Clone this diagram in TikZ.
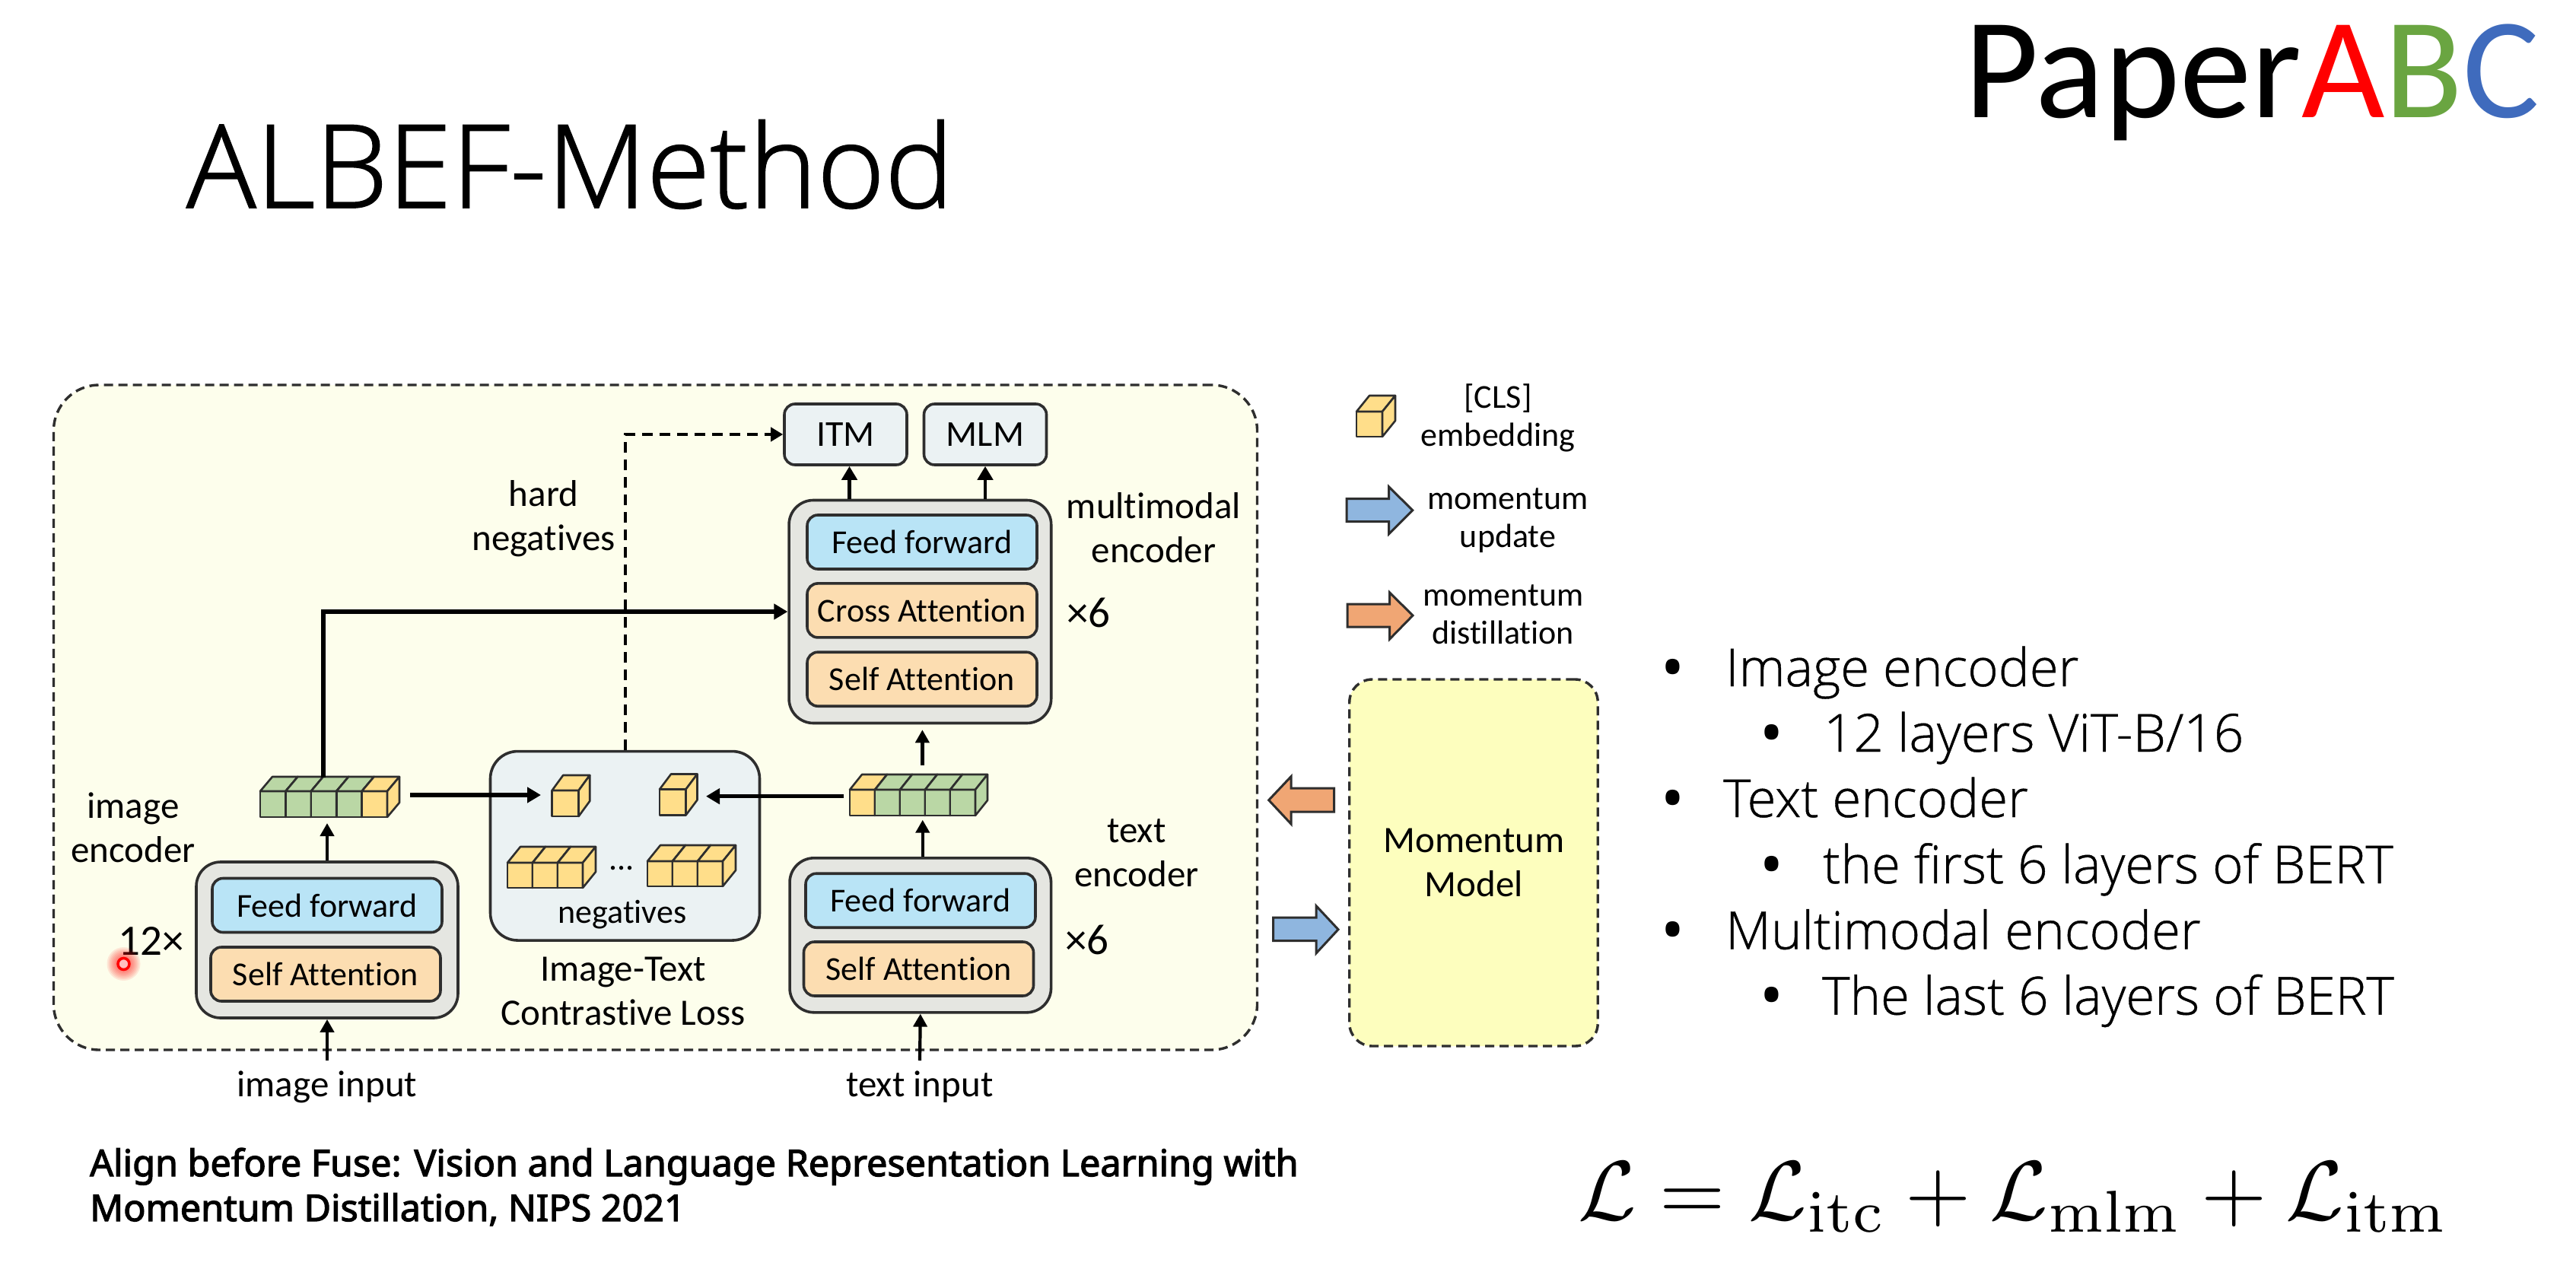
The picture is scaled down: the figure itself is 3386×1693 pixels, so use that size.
\documentclass[tikz,border=0pt]{standalone}
\usepackage[no-math]{fontspec}
\usetikzlibrary{arrows.meta}
\newfontfamily\carl[Ligatures=NoCommon]{Carlito}
\newfontfamily\opensans[FakeBold=0.6]{Open Sans Light}
\newfontfamily\titlefont[FakeBold=1.2]{Open Sans Light}
\newfontfamily\notob{Noto Sans}
\newfontfamily\notobold[FakeBold=2.5]{Noto Sans}
\definecolor{outerfill}{HTML}{FDFEEC}
\definecolor{stackfill}{HTML}{E5E6E1}
\definecolor{fffill}{HTML}{B9E4F6}
\definecolor{attfill}{HTML}{FCDDB1}
\definecolor{ctrfill}{HTML}{EBF2F3}
\definecolor{momfill}{HTML}{FDFEBE}
\definecolor{tokg}{HTML}{BAD7A5}
\definecolor{toky}{HTML}{FFDE8A}
\definecolor{inkc}{HTML}{2E2E2E}
\definecolor{bluearr}{HTML}{8FB6DF}
\definecolor{orarr}{HTML}{F0A674}
\definecolor{abcr}{HTML}{FF0000}
\definecolor{abcg}{HTML}{6AA541}
\definecolor{abcb}{HTML}{3F6BBD}
\newcommand\tokcell[7]{%
  \draw[cubeline,fill=#7] (#1,#2) rectangle ++(#3,#4);
  \draw[cubeline,fill=#7] (#1,#2) -- ++(#5,-#6) -- ++(#3,0) -- ++(-#5,#6) -- cycle;
  \draw[cubeline,fill=#7] (#1,#2) ++(#3,0) -- ++(#5,-#6) -- ++(0,#4) -- ++(-#5,#6) -- cycle;
}
\newcommand\tokrow[7]{%
  \foreach \cc [count=\ii from 0] in {#7}{%
    \pgfmathsetmacro\xx{#1+\ii*#3}
    \tokcell{\xx}{#2}{#3}{#4}{#5}{#6}{\cc}
  }%
}
\tikzset{
  x=1pt,y=-1pt,
  cubeline/.style={draw=inkc,line width=2.6pt,line join=round},
  box/.style={draw=inkc,line width=3.6pt,rounded corners=14pt,inner sep=0pt,text=black,font=\carl\fontsize{44}{50}\selectfont},
  stackbox/.style={box,fill=stackfill,rounded corners=32pt},
  ffbox/.style={box,fill=fffill,minimum width=302pt,minimum height=71pt},
  attbox/.style={box,fill=attfill,minimum width=302pt,minimum height=71pt},
  headbox/.style={box,fill=ctrfill,minimum width=161pt,minimum height=80pt,font=\carl\fontsize{48}{50}\selectfont},
  dashbox/.style={draw=inkc,line width=3.4pt,dash pattern=on 12pt off 7pt},
  lab/.style={inner sep=0pt,anchor=base,align=center,font=\carl\fontsize{49}{58}\selectfont},
  timeslab/.style={lab,font=\carl\fontsize{57}{58}\selectfont},
  smalllab/.style={lab,font=\carl\fontsize{44}{50}\selectfont},
  slab/.style={inner sep=0pt,anchor=base west,font=\opensans\fontsize{69}{80}\selectfont},
  bul/.style={inner sep=0pt,anchor=base,font=\notob\fontsize{82}{100}\selectfont},
  hidden/.style={inner sep=0pt,outer sep=0pt},
  thinarr/.style={draw=black,line width=4.2pt,-{Triangle[length=17pt,width=18pt]}},
  thickarr/.style={draw=black,line width=5.5pt,-{Triangle[length=18pt,width=20pt]}},
  dasharr/.style={draw=black,line width=4pt,dash pattern=on 14pt off 9pt,-{Triangle[length=16pt,width=18pt]}},
  blockarr/.style={draw=inkc,line width=3pt,line join=miter},
}
\begin{document}
\begin{tikzpicture}
\useasboundingbox (0,0) rectangle (3386,1693);
\fill[white] (0,0) rectangle (3386,1693);
% title
\node[inner sep=0pt,anchor=base west,font=\titlefont\fontsize{152}{170}\selectfont] (title) at (245,273) {ALBEF-Method};
\node[inner sep=0pt,anchor=base west,font=\carl\fontsize{189}{200}\selectfont] (logo) at (2582,155) {Paper\textcolor{abcr}{A}\textcolor{abcg}{B}\textcolor{abcb}{C}};
% panels
\node[dashbox,fill=outerfill,rounded corners=60pt,minimum width=1582pt,minimum height=874pt,inner sep=0pt] (outer) at (861.5,943) {};
\node[dashbox,fill=momfill,rounded corners=30pt,minimum width=326.5pt,minimum height=482pt,inner sep=0pt] (momentum) at (1937,1134) {};
\node[lab] (momtext) at (1937.5,1178) {Momentum\\Model};
% multimodal encoder
\node[stackbox,minimum width=344.6pt,minimum height=293pt] (mmstack) at (1209.4,804) {};
\node[ffbox] (mmff) at (1212,712.5) {Feed forward};
\node[attbox] (mmcross) at (1212,802.4) {Cross Attention};
\node[attbox] (mmself) at (1212,892.7) {Self Attention};
\node[headbox] (itm) at (1111.5,571) {ITM};
\node[headbox] (mlm) at (1295,571) {MLM};
\node[lab] (mmlabel) at (1516.5,739) {multimodal\\encoder};
\node[timeslab] (mmx) at (1431,824) {×6};
% image encoder
\node[stackbox,minimum width=344pt,minimum height=205pt] (imgstack) at (430,1235.5) {};
\node[ffbox] (imgff) at (430,1190) {Feed forward};
\node[attbox] (imgself) at (428,1280.5) {Self Attention};
\node[lab] (imglabel) at (175,1133) {image\\encoder};
\node[timeslab] (imgx) at (199,1255) {12×};
\node[lab] (imginput) at (430,1441.7) {image input};
% text encoder
\node[stackbox,minimum width=343.5pt,minimum height=203pt] (txtstack) at (1209.8,1229.3) {};
\node[ffbox] (txtff) at (1210,1183.7) {Feed forward};
\node[attbox] (txtself) at (1207.5,1273.5) {Self Attention};
\node[lab] (txtlabel) at (1494,1165) {text\\encoder};
\node[timeslab] (txtx) at (1429,1254) {×6};
\node[lab] (txtinput) at (1209,1441.7) {text input};
% contrastive box
\node[box,fill=ctrfill,rounded corners=36pt,minimum width=354pt,minimum height=248.5pt] (contrast) at (821.5,1111.8) {};
\node[smalllab] (neglabel) at (818,1213) {negatives};
\node[lab] (ctrlabel) at (819,1347) {Image-Text\\Contrastive Loss};
\node[smalllab] (dots) at (817,1143) {...};
\node[lab] (hardlabel) at (714.5,723) {hard\\negatives};
% tokens
\tokrow{342}{1040}{33.4}{34}{16}{19}{tokg,tokg,tokg,tokg,toky}
\tokrow{1117}{1038}{33}{34}{16}{20}{toky,tokg,tokg,tokg,tokg}
\tokcell{725.6}{1039}{35}{34}{14.6}{20}{toky}
\tokcell{867}{1037.5}{34.5}{34}{15}{20}{toky}
\tokrow{667}{1134}{33}{33}{17}{21}{toky,toky,toky}
\tokrow{851}{1132}{33}{33}{17}{21}{toky,toky,toky}
\node[hidden,minimum width=183pt,minimum height=58pt] (imgtok) at (433.5,1045) {};
\node[hidden,minimum width=181.5pt,minimum height=58pt] (txttok) at (1207.75,1046.7) {};
\node[hidden,minimum width=50pt,minimum height=54pt] (cubeL) at (750,1045) {};
\node[hidden,minimum width=50pt,minimum height=54pt] (cubeR) at (892,1046.7) {};
\coordinate (imgtap) at (425,1022);
% connectors
\draw[dasharr] (contrast.north) |- (itm.west);
\draw[thickarr] (imgtap) |- (mmstack.west);
\draw[thickarr,shorten <=14pt,shorten >=14pt] (imgtok.east) -- (cubeL.west);
\draw[thickarr,shorten <=8pt,shorten >=11pt] (txttok.west) -- (cubeR.east);
\draw[thinarr,shorten >=8pt] (imgstack.north) -- (imgstack.north |- imgtok.south);
\draw[thinarr] (imginput.north |- 0,1394) -- (imgstack.south);
\draw[thinarr,shorten >=2pt] (txtstack.north -| txttok.south) ++(5,0) -- ([xshift=5pt]txttok.south);
\draw[thinarr,shorten <=12pt,shorten >=7pt] (txttok.north -| mmstack.south) ++(3,0) -- ([xshift=3pt]mmstack.south);
\draw[thinarr] (txtinput.north |- 0,1394) -- (txtstack.south);
\draw[thickarr,line width=4.6pt] (mmstack.north -| itm.south) ++(5,0) -- ([xshift=5pt]itm.south);
\draw[thickarr,line width=4.6pt] (mmstack.north -| mlm.south) -- (mlm.south);
% block arrows between panels
\draw[blockarr,fill=orarr] (1753.5,1036) -- (1697,1036) -- (1697,1020.7) -- (1667.7,1051.7) -- (1697,1083) -- (1697,1067) -- (1753.5,1067) -- cycle;
\draw[blockarr,fill=bluearr] (1673.5,1206) -- (1730,1206) -- (1730,1190.7) -- (1759,1221.7) -- (1730,1253) -- (1730,1236.7) -- (1673.5,1236.7) -- cycle;
% legend
\tokcell{1783}{541}{34}{33}{17}{21}{toky}
\node[smalllab] (cls) at (1969,586) {[CLS]\\embedding};
\draw[blockarr,fill=bluearr] (1770,655.7) -- (1825.7,655.7) -- (1825.7,640) -- (1856.7,670.7) -- (1825.7,701.7) -- (1825.7,685.7) -- (1770,685.7) -- cycle;
\node[smalllab] (mupd) at (1982,719) {momentum\\update};
\draw[blockarr,fill=orarr] (1771,794) -- (1826.7,794) -- (1826.7,779) -- (1857,809) -- (1826.7,840) -- (1826.7,824) -- (1771,824) -- cycle;
\node[smalllab] (mdist) at (1975.7,846.7) {momentum\\distillation};
% bullets
\node[bul] (b1) at (2199,906) {•};
\node[slab] (t1) at (2268,902) {Image encoder};
\node[bul] (b2) at (2329,992.5) {•};
\node[slab] (t2) at (2397,988) {12 layers ViT-B/16};
\node[bul] (b3) at (2199,1078.5) {•};
\node[slab] (t3) at (2265,1074) {Text encoder};
\node[bul] (b4) at (2329,1165.5) {•};
\node[slab] (t4) at (2396,1161) {the first 6 layers of BERT};
\node[bul] (b5) at (2199,1251.5) {•};
\node[slab] (t5) at (2268,1247.5) {Multimodal encoder};
\node[bul] (b6) at (2329,1337.5) {•};
\node[slab] (t6) at (2395,1333.6) {The last 6 layers of BERT};
% citation
\node[inner sep=0pt,anchor=base west,align=left,font=\notobold\fontsize{48.5}{59}\selectfont] (cite) at (118,1605) {Align before Fuse: Vision and Language Representation Learning with\\Momentum Distillation, NIPS 2021};
% formula
\node[inner sep=0pt,anchor=base west,scale=11.1] (formula) at (2072,1603) {$\mathcal{L}=\mathcal{L}_{\mathrm{itc}}+\mathcal{L}_{\mathrm{mlm}}+\mathcal{L}_{\mathrm{itm}}$};
% cursor
\foreach \rr in {22,20,18,16,14,12,10}{\fill[red,opacity=0.09] (162.5,1267) circle (\rr);}
\node[circle,draw=red,line width=3.5pt,fill=red!25,minimum size=15pt,inner sep=0pt] (cursor) at (162.5,1267) {};
\end{tikzpicture}
\end{document}
